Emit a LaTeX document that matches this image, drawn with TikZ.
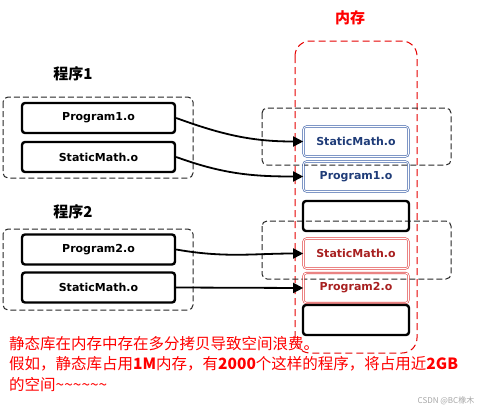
\documentclass[tikz,border=0pt]{standalone}
\usepackage{fontspec}
\setmainfont{DejaVu Sans}
\newfontfamily\cjk{Noto Sans CJK SC}
\usetikzlibrary{arrows.meta}
\definecolor{memblue}{HTML}{3A5FA8}
\definecolor{txtblue}{HTML}{1F3C78}
\definecolor{memred}{HTML}{E04040}
\definecolor{txtred}{HTML}{A82020}
\begin{document}
\begin{tikzpicture}[x=1pt,y=-1pt,>={Triangle[length=10pt,width=10pt]},
    lbl/.style={font=\bfseries\fontsize{11}{13}\selectfont},
    obj/.style={draw,lbl,line width=2.4pt,rounded corners=3pt,minimum width=153pt,minimum height=30pt,inner sep=0pt},
    slot/.style={obj,minimum width=106pt},
    memb/.style={draw=memblue,text=txtblue,lbl,line width=0.6pt,double=white,double distance=0.9pt,rounded corners=3pt,minimum width=105pt,minimum height=30pt,inner sep=0pt},
    memr/.style={memb,draw=memred,text=txtred},
    grp/.style={draw=black!85,line width=1pt,dash pattern=on 6pt off 3pt,rounded corners=5pt}]
    \useasboundingbox (0,0) rectangle (483,413);
    % 内存
    \draw[red!90!black,line width=1pt,dash pattern=on 7pt off 4pt,rounded corners=15pt] (295,41) rectangle (417,353);
    \node[text=red,font=\cjk\bfseries\fontsize{15}{18}\selectfont] (memtitle) at (350,18) {内存};
    % 虚线分组
    \draw[grp] (3,97) rectangle (193,178);
    \draw[grp] (3,229) rectangle (193,310);
    \draw[grp] (262,108) rectangle (451,165);
    \draw[grp] (262,221) rectangle (451,279);
    % 程序1
    \node[font=\cjk\bfseries\fontsize{15}{18}\selectfont] (p1title) at (73,74) {程序1};
    \node[obj] (p1) at (98.5,118) {Program1.o};
    \node[obj] (s1) at (98.5,157) {StaticMath.o};
    % 程序2
    \node[font=\cjk\bfseries\fontsize{15}{18}\selectfont] (p2title) at (73,212) {程序2};
    \node[obj] (p2) at (98.5,249.5) {Program2.o};
    \node[obj] (s2) at (98.5,287.5) {StaticMath.o};
    % 内存中的模块
    \node[memb] (ms1) at (356,141.5) {StaticMath.o};
    \node[memb] (mp1) at (356,176.5) {Program1.o};
    \node[slot] (e1) at (356,216) {};
    \node[memr] (ms2) at (356,253.5) {StaticMath.o};
    \node[memr] (mp2) at (356,288) {Program2.o};
    \node[slot] (e2) at (356,320) {};
    % 箭头
    \draw[->,line width=1.8pt] (p1.east) to[out=-20,in=180] (ms1.west);
    \draw[->,line width=1.8pt] (s1.east) to[out=-20,in=180] (mp1.west);
    \draw[->,line width=1.8pt] (p2.east) to[out=-10,in=180] (ms2.west);
    \draw[->,line width=1.8pt] (s2.east) -- (mp2.west);
    % 说明文字
    \node[anchor=north west,align=left,inner sep=0pt,text=red,font=\cjk\fontsize{15.5}{20.5}\selectfont] (note) at (9,336)
        {静态库在内存中存在多分拷贝导致空间浪费。\\
         假如，静态库占用\textbf{1M}内存，有\textbf{2000}个这样的程序，将占用近\textbf{2GB}\\
         的空间\textasciitilde\textasciitilde\textasciitilde\textasciitilde\textasciitilde\textasciitilde};
    \node[text=black!35,font=\cjk\fontsize{8}{10}\selectfont] (mark) at (446,401) {CSDN @BC橡木};
\end{tikzpicture}
\end{document}
